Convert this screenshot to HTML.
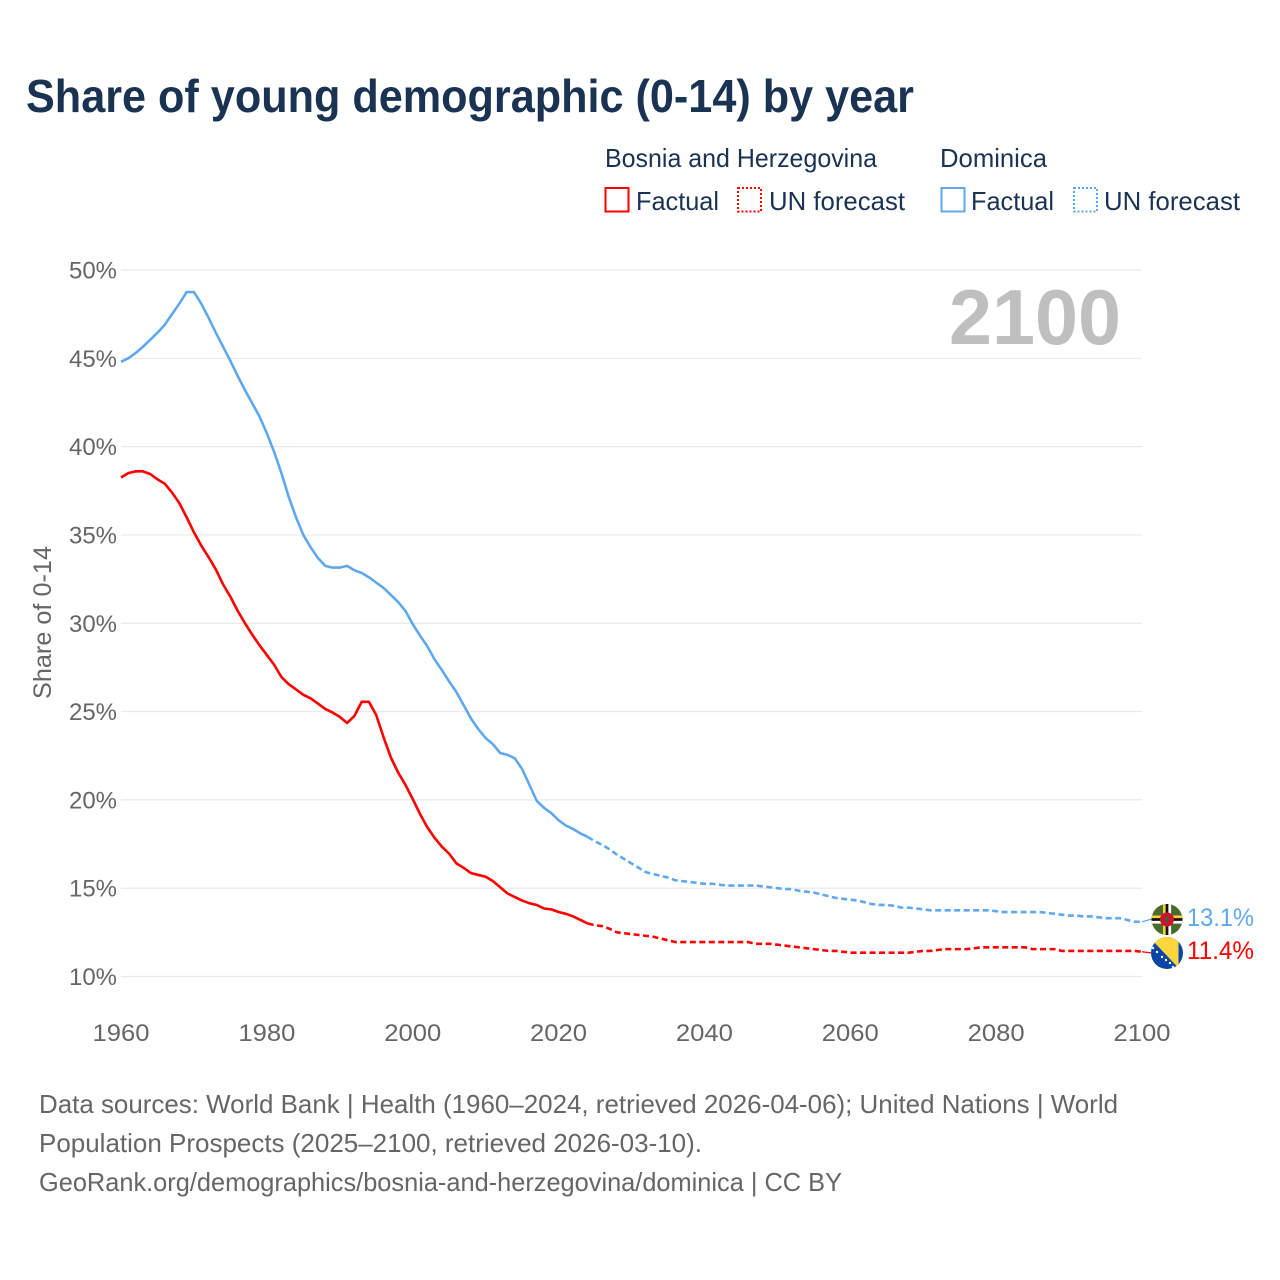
<!DOCTYPE html>
<html lang="en">
<head>
<meta charset="utf-8">
<title>Share of young demographic (0-14) by year</title>
<style>
html,body{margin:0;padding:0;background:#fff;width:1280px;height:1280px;overflow:hidden}
svg{display:block}
text{font-family:"Liberation Sans",sans-serif}
</style>
</head>
<body>
<svg id="chart" xmlns="http://www.w3.org/2000/svg" width="1280" height="1280" viewBox="0 0 1280 1280">
  <defs>
    <clipPath id="clip-dm"><circle cx="1167" cy="919.5" r="15.5"/></clipPath>
    <clipPath id="clip-ba"><circle cx="1167" cy="953" r="16"/></clipPath>
  </defs>
  <text x="26" y="112" font-size="46" font-weight="700" fill="#1a3353" textLength="888" lengthAdjust="spacingAndGlyphs">Share of young demographic (0-14) by year</text>

  <g>
    <text x="605" y="167" font-size="26" fill="#1a3353" textLength="272" lengthAdjust="spacingAndGlyphs">Bosnia and Herzegovina</text>
    <text x="940" y="167" font-size="26" fill="#1a3353" textLength="107" lengthAdjust="spacingAndGlyphs">Dominica</text>
    <rect x="605.5" y="188" width="23" height="23.5" fill="none" stroke="#ff0000" stroke-width="2"/>
    <text x="636" y="210" font-size="26" fill="#1a3353" textLength="83" lengthAdjust="spacingAndGlyphs">Factual</text>
    <rect x="738" y="188" width="23" height="23.5" fill="none" stroke="#ff0000" stroke-width="2" stroke-dasharray="2,2"/>
    <text x="769" y="210" font-size="26" fill="#1a3353" textLength="136" lengthAdjust="spacingAndGlyphs">UN forecast</text>
    <rect x="941.5" y="188" width="23" height="23.5" fill="none" stroke="#5fa8ee" stroke-width="2"/>
    <text x="971" y="210" font-size="26" fill="#1a3353" textLength="83" lengthAdjust="spacingAndGlyphs">Factual</text>
    <rect x="1074" y="188" width="23" height="23.5" fill="none" stroke="#5fa8ee" stroke-width="2" stroke-dasharray="2,2"/>
    <text x="1104" y="210" font-size="26" fill="#1a3353" textLength="136" lengthAdjust="spacingAndGlyphs">UN forecast</text>
  </g>

  <g id="grid"></g>
  <g id="yticks"></g>
  <g id="xticks"></g>
  <text transform="translate(51,699) rotate(-90)" font-size="25" fill="#666666" textLength="153" lengthAdjust="spacingAndGlyphs">Share of 0-14</text>
  <text x="949" y="344" font-size="78" font-weight="700" fill="#bfbfbf" textLength="172" lengthAdjust="spacingAndGlyphs">2100</text>
  <g id="series"></g>

  <g clip-path="url(#clip-dm)">
    <rect x="1150" y="902" width="34" height="35" fill="#4a6b2c"/>
    <rect x="1150" y="915.5" width="34" height="2.7" fill="#f6d13c"/>
    <rect x="1150" y="918.2" width="34" height="2.7" fill="#111111"/>
    <rect x="1150" y="920.9" width="34" height="2.7" fill="#ffffff"/>
    <rect x="1163" y="902" width="2.7" height="35" fill="#f6d13c"/>
    <rect x="1165.7" y="902" width="2.7" height="35" fill="#111111"/>
    <rect x="1168.4" y="902" width="2.7" height="35" fill="#ffffff"/>
    <circle cx="1167" cy="919.5" r="7" fill="#d3102c"/>
    <ellipse cx="1167" cy="919.5" rx="1.6" ry="3.5" fill="#2c6b2c"/>
  </g>
  <g clip-path="url(#clip-ba)">
    <rect x="1150" y="936" width="34" height="34" fill="#0b45a8"/>
    <polygon points="1150,936 1178.5,936 1178.5,968 1152,940" fill="#fdd63e"/>
    <g fill="#ffffff">
      <circle cx="1153" cy="948" r="1.2"/><circle cx="1157" cy="952" r="1.2"/><circle cx="1162" cy="957" r="1.2"/>
      <circle cx="1166" cy="960" r="1.2"/><circle cx="1170" cy="963" r="1.2"/><circle cx="1173" cy="967" r="1.2"/>
    </g>
  </g>

  <text x="1187" y="926" font-size="25" fill="#5fa8ee" textLength="67" lengthAdjust="spacingAndGlyphs">13.1%</text>
  <text x="1187" y="959" font-size="25" fill="#ff0000" textLength="67" lengthAdjust="spacingAndGlyphs">11.4%</text>

  <g font-size="26" fill="#666666">
    <text x="39" y="1113" textLength="1079" lengthAdjust="spacingAndGlyphs">Data sources: World Bank | Health (1960–2024, retrieved 2026-04-06); United Nations | World</text>
    <text x="39" y="1152" textLength="663" lengthAdjust="spacingAndGlyphs">Population Prospects (2025–2100, retrieved 2026-03-10).</text>
    <text x="39" y="1191" textLength="803" lengthAdjust="spacingAndGlyphs">GeoRank.org/demographics/bosnia-and-herzegovina/dominica | CC BY</text>
  </g>
</svg>
<script>
var factualStartYear = 1960;
var forecastStartYear = 2024;
var xTickYears = [1960, 1980, 2000, 2020, 2040, 2060, 2080, 2100];
var yTickValues = [10, 15, 20, 25, 30, 35, 40, 45, 50];

var bosniaFactual = [
  38.25,38.5,38.6,38.6,38.45,38.15,37.9,37.4,36.8,36.0,
  35.15,34.4,33.75,33.05,32.2,31.5,30.7,30.0,29.35,28.75,
  28.2,27.65,26.95,26.55,26.25,25.95,25.75,25.45,25.15,24.95,
  24.7,24.35,24.75,25.55,25.55,24.8,23.55,22.4,21.55,20.85,
  20.05,19.2,18.45,17.85,17.35,16.95,16.4,16.15,15.85,15.75,
  15.65,15.4,15.05,14.7,14.5,14.3,14.15,14.05,13.85,13.8,
  13.65,13.55,13.4,13.2,13.0
];
var bosniaForecast = [
  13.0,12.9,12.85,12.7,12.5,12.45,12.4,
  12.35,12.3,12.25,12.15,12.05,11.95,11.95,11.95,11.95,11.95,
  11.95,11.95,11.95,11.95,11.95,11.95,11.85,11.85,11.85,11.8,
  11.75,11.7,11.65,11.6,11.55,11.5,11.45,11.45,11.4,11.35,
  11.35,11.35,11.35,11.35,11.35,11.35,11.35,11.35,11.4,11.45,
  11.45,11.5,11.55,11.55,11.55,11.55,11.6,11.65,11.65,11.65,
  11.65,11.65,11.65,11.65,11.55,11.55,11.55,11.55,11.45,11.45,
  11.45,11.45,11.45,11.45,11.45,11.45,11.45,11.45,11.45,11.4
];
var dominicaFactual = [
  44.8,45.0,45.3,45.65,46.05,46.45,46.9,47.5,48.1,48.75,
  48.75,48.1,47.3,46.45,45.65,44.85,44.0,43.2,42.45,41.7,
  40.75,39.7,38.5,37.15,36.0,35.0,34.3,33.7,33.25,33.15,
  33.15,33.25,33.0,32.85,32.6,32.3,32.0,31.6,31.2,30.7,
  29.95,29.3,28.7,27.95,27.35,26.7,26.1,25.35,24.6,24.0,
  23.5,23.15,22.65,22.55,22.35,21.75,20.85,19.95,19.55,19.25,
  18.85,18.55,18.35,18.1,17.9
];
var dominicaForecast = [
  17.9,17.65,17.45,17.2,16.9,16.65,16.4,
  16.15,15.9,15.8,15.7,15.6,15.45,15.4,15.35,15.3,15.25,
  15.25,15.2,15.15,15.15,15.15,15.15,15.15,15.1,15.05,15.0,
  14.95,14.95,14.85,14.8,14.75,14.65,14.55,14.45,14.4,14.35,
  14.3,14.2,14.1,14.05,14.05,14.0,13.9,13.9,13.85,13.8,
  13.75,13.75,13.75,13.75,13.75,13.75,13.75,13.75,13.75,13.7,
  13.65,13.65,13.65,13.65,13.65,13.65,13.6,13.55,13.5,13.45,
  13.45,13.4,13.4,13.35,13.3,13.3,13.3,13.2,13.1,13.1
];

var SVGNS = 'http://www.w3.org/2000/svg';
function xScale(year) { return 121 + (year - 1960) * (1142 - 121) / 140; }
function yScale(v) { return 976.5 - (v - 10) * (976.5 - 270) / 40; }

function linePoints(values, startYear) {
  return values.map(function (v, i) {
    return xScale(startYear + i).toFixed(2) + ',' + yScale(v).toFixed(2);
  }).join(' ');
}

var gridGroup = document.getElementById('grid');
var yGroup = document.getElementById('yticks');
var xGroup = document.getElementById('xticks');
var seriesGroup = document.getElementById('series');

yTickValues.forEach(function (v) {
  var line = document.createElementNS(SVGNS, 'line');
  
  
  line.setAttribute('x1', 121);
  line.setAttribute('x2', 1142);
  line.setAttribute('y1', yScale(v));
  line.setAttribute('y2', yScale(v));
  line.setAttribute('stroke', '#e9e9e9');
  line.setAttribute('stroke-width', '1.2');
  gridGroup.appendChild(line);

  var label = document.createElementNS(SVGNS, 'text');
  
  
  label.setAttribute('x', 117);
  label.setAttribute('y', yScale(v) + 8.5);
  label.setAttribute('text-anchor', 'end');
  label.setAttribute('font-size', '24');
  label.setAttribute('fill', '#666666');
  label.setAttribute('textLength', '48');
  label.setAttribute('lengthAdjust', 'spacingAndGlyphs');
  label.textContent = v + '%';
  yGroup.appendChild(label);
});

xTickYears.forEach(function (year) {
  var label = document.createElementNS(SVGNS, 'text');
  
  
  label.setAttribute('x', xScale(year));
  label.setAttribute('y', 1041);
  label.setAttribute('text-anchor', 'middle');
  label.setAttribute('font-size', '24');
  label.setAttribute('fill', '#666666');
  label.setAttribute('textLength', '57');
  label.setAttribute('lengthAdjust', 'spacingAndGlyphs');
  label.textContent = year;
  xGroup.appendChild(label);
});

function drawFactual(values, color, name) {
  var line = document.createElementNS(SVGNS, 'polyline');
  
  
  line.setAttribute('points', linePoints(values, factualStartYear));
  line.setAttribute('fill', 'none');
  line.setAttribute('stroke', color);
  line.setAttribute('stroke-width', '2.6');
  line.setAttribute('stroke-linejoin', 'round');
  seriesGroup.appendChild(line);
}

function drawForecast(values, color, name) {
  var line = document.createElementNS(SVGNS, 'polyline');
  
  
  line.setAttribute('points', linePoints(values, forecastStartYear));
  line.setAttribute('fill', 'none');
  line.setAttribute('stroke', color);
  line.setAttribute('stroke-width', '2.6');
  line.setAttribute('stroke-dasharray', '6,3.5');
  seriesGroup.appendChild(line);
}

function drawConnector(values, color, flagY, name) {
  var last = values[values.length - 1];
  var line = document.createElementNS(SVGNS, 'line');
  
  
  line.setAttribute('x1', xScale(2100));
  line.setAttribute('y1', yScale(last));
  line.setAttribute('x2', 1152);
  line.setAttribute('y2', flagY);
  line.setAttribute('stroke', color);
  line.setAttribute('stroke-width', '1.2');
  seriesGroup.appendChild(line);
}

drawFactual(dominicaFactual, '#5fa8ee', 'line-dominica-factual');
drawForecast(dominicaForecast, '#5fa8ee', 'line-dominica-forecast');
drawConnector(dominicaForecast, '#5fa8ee', 919, 'connector-dominica');
drawFactual(bosniaFactual, '#ff0000', 'line-bosnia-factual');
drawForecast(bosniaForecast, '#ff0000', 'line-bosnia-forecast');
drawConnector(bosniaForecast, '#ff0000', 953, 'connector-bosnia');
</script>
</body>
</html>
